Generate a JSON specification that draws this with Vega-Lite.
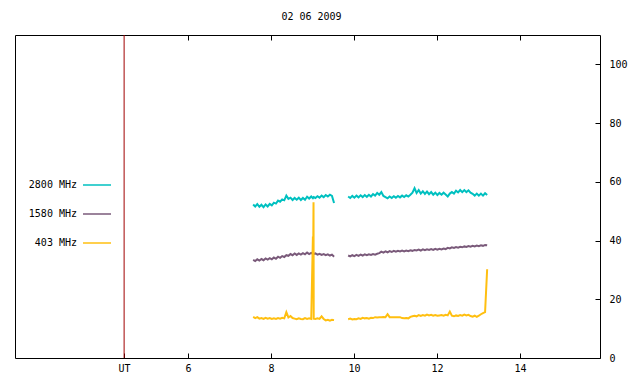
{
  "$schema": "https://vega.github.io/schema/vega-lite/v6.json",
  "width": 585,
  "height": 323,
  "autosize": {"type": "none"},
  "padding": {"left": 15, "top": 35, "right": 40, "bottom": 26},
  "background": "white",
  "config": {
    "view": {"stroke": "#000", "strokeWidth": 1},
    "font": "DejaVu Sans Mono",
    "axis": {"grid": false, "domain": false, "tickColor": "#000", "tickSize": -5, "labelPadding": 10, "labelFont": "DejaVu Sans Mono", "labelFontSize": 10, "labelColor": "#000", "title": null}
  },
  "title": {"text": "02 06 2009", "fontSize": 10, "font": "DejaVu Sans Mono", "fontWeight": "normal", "color": "#000", "offset": 13, "dx": 4},
  "layer": [
    {
      "data": {"values": [
        {"seg": 1, "t": 7.57, "2800 MHz": 52.3, "1580 MHz": 33.4, "403 MHz": 14.0},
        {"seg": 1, "t": 7.62, "2800 MHz": 51.6, "1580 MHz": 33.0, "403 MHz": 13.6},
        {"seg": 1, "t": 7.67, "2800 MHz": 52.4, "1580 MHz": 33.6, "403 MHz": 13.9},
        {"seg": 1, "t": 7.72, "2800 MHz": 51.5, "1580 MHz": 33.2, "403 MHz": 13.4},
        {"seg": 1, "t": 7.77, "2800 MHz": 52.2, "1580 MHz": 33.7, "403 MHz": 13.6},
        {"seg": 1, "t": 7.82, "2800 MHz": 51.4, "1580 MHz": 33.3, "403 MHz": 13.3},
        {"seg": 1, "t": 7.87, "2800 MHz": 52.3, "1580 MHz": 33.9, "403 MHz": 13.7},
        {"seg": 1, "t": 7.92, "2800 MHz": 51.6, "1580 MHz": 33.5, "403 MHz": 13.4},
        {"seg": 1, "t": 7.97, "2800 MHz": 52.5, "1580 MHz": 34.0, "403 MHz": 13.6},
        {"seg": 1, "t": 8.02, "2800 MHz": 52.0, "1580 MHz": 33.6, "403 MHz": 13.3},
        {"seg": 1, "t": 8.07, "2800 MHz": 52.9, "1580 MHz": 34.2, "403 MHz": 13.5},
        {"seg": 1, "t": 8.12, "2800 MHz": 52.6, "1580 MHz": 33.8, "403 MHz": 13.3},
        {"seg": 1, "t": 8.17, "2800 MHz": 53.6, "1580 MHz": 34.5, "403 MHz": 13.6},
        {"seg": 1, "t": 8.22, "2800 MHz": 53.2, "1580 MHz": 34.1, "403 MHz": 13.4},
        {"seg": 1, "t": 8.27, "2800 MHz": 54.0, "1580 MHz": 34.7, "403 MHz": 13.7},
        {"seg": 1, "t": 8.32, "2800 MHz": 53.7, "1580 MHz": 34.4, "403 MHz": 13.5},
        {"seg": 1, "t": 8.37, "2800 MHz": 55.3, "1580 MHz": 35.0, "403 MHz": 15.6},
        {"seg": 1, "t": 8.42, "2800 MHz": 54.2, "1580 MHz": 34.8, "403 MHz": 13.8},
        {"seg": 1, "t": 8.47, "2800 MHz": 54.6, "1580 MHz": 35.4, "403 MHz": 14.3},
        {"seg": 1, "t": 8.52, "2800 MHz": 53.8, "1580 MHz": 35.0, "403 MHz": 13.6},
        {"seg": 1, "t": 8.57, "2800 MHz": 54.5, "1580 MHz": 35.6, "403 MHz": 13.4},
        {"seg": 1, "t": 8.62, "2800 MHz": 53.9, "1580 MHz": 35.1, "403 MHz": 13.2},
        {"seg": 1, "t": 8.67, "2800 MHz": 54.6, "1580 MHz": 35.6, "403 MHz": 13.5},
        {"seg": 1, "t": 8.72, "2800 MHz": 53.8, "1580 MHz": 35.2, "403 MHz": 13.3},
        {"seg": 1, "t": 8.77, "2800 MHz": 54.5, "1580 MHz": 35.7, "403 MHz": 13.2},
        {"seg": 1, "t": 8.82, "2800 MHz": 53.9, "1580 MHz": 35.3, "403 MHz": 13.6},
        {"seg": 1, "t": 8.87, "2800 MHz": 54.9, "1580 MHz": 35.9, "403 MHz": 13.3},
        {"seg": 1, "t": 8.92, "2800 MHz": 54.3, "1580 MHz": 35.4, "403 MHz": 13.5},
        {"seg": 1, "t": 8.97, "2800 MHz": 55.0, "1580 MHz": 35.8, "403 MHz": 13.3},
        {"seg": 1, "t": 9.01, "2800 MHz": 54.4, "1580 MHz": 35.5, "403 MHz": 41.0},
        {"seg": 1, "t": 9.02, "2800 MHz": 54.6, "1580 MHz": 35.6, "403 MHz": 41.0},
        {"seg": 1, "t": 9.025, "2800 MHz": 54.7, "1580 MHz": 35.5, "403 MHz": 53.0},
        {"seg": 1, "t": 9.03, "2800 MHz": 54.8, "1580 MHz": 35.4, "403 MHz": 13.4},
        {"seg": 1, "t": 9.07, "2800 MHz": 54.5, "1580 MHz": 35.6, "403 MHz": 13.3},
        {"seg": 1, "t": 9.12, "2800 MHz": 55.1, "1580 MHz": 35.2, "403 MHz": 13.5},
        {"seg": 1, "t": 9.17, "2800 MHz": 54.6, "1580 MHz": 35.5, "403 MHz": 13.3},
        {"seg": 1, "t": 9.22, "2800 MHz": 55.3, "1580 MHz": 35.1, "403 MHz": 14.2},
        {"seg": 1, "t": 9.27, "2800 MHz": 54.8, "1580 MHz": 35.4, "403 MHz": 13.3},
        {"seg": 1, "t": 9.32, "2800 MHz": 55.5, "1580 MHz": 35.0, "403 MHz": 12.8},
        {"seg": 1, "t": 9.37, "2800 MHz": 55.0, "1580 MHz": 35.3, "403 MHz": 13.0},
        {"seg": 1, "t": 9.42, "2800 MHz": 55.6, "1580 MHz": 34.9, "403 MHz": 12.7},
        {"seg": 1, "t": 9.47, "2800 MHz": 55.2, "1580 MHz": 35.2, "403 MHz": 13.0},
        {"seg": 1, "t": 9.52, "2800 MHz": 52.8, "1580 MHz": 34.5, "403 MHz": 12.9},
        {"seg": 2, "t": 9.86, "2800 MHz": 55.0, "1580 MHz": 34.9, "403 MHz": 13.2},
        {"seg": 2, "t": 9.91, "2800 MHz": 54.5, "1580 MHz": 34.6, "403 MHz": 13.4},
        {"seg": 2, "t": 9.96, "2800 MHz": 55.2, "1580 MHz": 35.0, "403 MHz": 13.1},
        {"seg": 2, "t": 10.01, "2800 MHz": 54.6, "1580 MHz": 34.7, "403 MHz": 13.3},
        {"seg": 2, "t": 10.06, "2800 MHz": 55.3, "1580 MHz": 35.1, "403 MHz": 13.2},
        {"seg": 2, "t": 10.11, "2800 MHz": 54.7, "1580 MHz": 34.8, "403 MHz": 13.5},
        {"seg": 2, "t": 10.16, "2800 MHz": 55.4, "1580 MHz": 35.2, "403 MHz": 13.3},
        {"seg": 2, "t": 10.21, "2800 MHz": 54.8, "1580 MHz": 34.9, "403 MHz": 13.7},
        {"seg": 2, "t": 10.26, "2800 MHz": 55.5, "1580 MHz": 35.3, "403 MHz": 13.5},
        {"seg": 2, "t": 10.31, "2800 MHz": 54.9, "1580 MHz": 35.0, "403 MHz": 13.6},
        {"seg": 2, "t": 10.36, "2800 MHz": 55.6, "1580 MHz": 35.3, "403 MHz": 13.4},
        {"seg": 2, "t": 10.41, "2800 MHz": 55.0, "1580 MHz": 35.1, "403 MHz": 13.7},
        {"seg": 2, "t": 10.46, "2800 MHz": 55.8, "1580 MHz": 35.4, "403 MHz": 13.6},
        {"seg": 2, "t": 10.51, "2800 MHz": 55.3, "1580 MHz": 35.2, "403 MHz": 13.9},
        {"seg": 2, "t": 10.56, "2800 MHz": 56.2, "1580 MHz": 35.5, "403 MHz": 13.8},
        {"seg": 2, "t": 10.61, "2800 MHz": 55.6, "1580 MHz": 35.7, "403 MHz": 13.9},
        {"seg": 2, "t": 10.66, "2800 MHz": 56.5, "1580 MHz": 36.2, "403 MHz": 13.9},
        {"seg": 2, "t": 10.71, "2800 MHz": 55.2, "1580 MHz": 35.9, "403 MHz": 14.0},
        {"seg": 2, "t": 10.76, "2800 MHz": 54.8, "1580 MHz": 36.3, "403 MHz": 13.9},
        {"seg": 2, "t": 10.81, "2800 MHz": 54.4, "1580 MHz": 36.0, "403 MHz": 14.9},
        {"seg": 2, "t": 10.86, "2800 MHz": 55.0, "1580 MHz": 36.4, "403 MHz": 13.9},
        {"seg": 2, "t": 10.91, "2800 MHz": 54.5, "1580 MHz": 36.1, "403 MHz": 13.9},
        {"seg": 2, "t": 10.96, "2800 MHz": 55.1, "1580 MHz": 36.5, "403 MHz": 13.9},
        {"seg": 2, "t": 11.01, "2800 MHz": 54.6, "1580 MHz": 36.2, "403 MHz": 13.9},
        {"seg": 2, "t": 11.06, "2800 MHz": 55.2, "1580 MHz": 36.5, "403 MHz": 13.9},
        {"seg": 2, "t": 11.11, "2800 MHz": 54.7, "1580 MHz": 36.3, "403 MHz": 13.9},
        {"seg": 2, "t": 11.16, "2800 MHz": 55.3, "1580 MHz": 36.6, "403 MHz": 13.6},
        {"seg": 2, "t": 11.21, "2800 MHz": 54.8, "1580 MHz": 36.3, "403 MHz": 13.5},
        {"seg": 2, "t": 11.26, "2800 MHz": 55.4, "1580 MHz": 36.6, "403 MHz": 13.6},
        {"seg": 2, "t": 11.31, "2800 MHz": 55.0, "1580 MHz": 36.4, "403 MHz": 13.5},
        {"seg": 2, "t": 11.36, "2800 MHz": 55.6, "1580 MHz": 36.7, "403 MHz": 14.0},
        {"seg": 2, "t": 11.41, "2800 MHz": 56.3, "1580 MHz": 36.5, "403 MHz": 14.2},
        {"seg": 2, "t": 11.46, "2800 MHz": 57.8, "1580 MHz": 36.8, "403 MHz": 14.4},
        {"seg": 2, "t": 11.51, "2800 MHz": 56.2, "1580 MHz": 36.6, "403 MHz": 14.2},
        {"seg": 2, "t": 11.56, "2800 MHz": 57.2, "1580 MHz": 36.9, "403 MHz": 14.6},
        {"seg": 2, "t": 11.61, "2800 MHz": 56.0, "1580 MHz": 36.6, "403 MHz": 14.3},
        {"seg": 2, "t": 11.66, "2800 MHz": 56.8, "1580 MHz": 37.0, "403 MHz": 14.6},
        {"seg": 2, "t": 11.71, "2800 MHz": 55.9, "1580 MHz": 36.7, "403 MHz": 14.4},
        {"seg": 2, "t": 11.76, "2800 MHz": 56.7, "1580 MHz": 37.0, "403 MHz": 14.8},
        {"seg": 2, "t": 11.81, "2800 MHz": 55.8, "1580 MHz": 36.8, "403 MHz": 14.5},
        {"seg": 2, "t": 11.86, "2800 MHz": 56.5, "1580 MHz": 37.1, "403 MHz": 14.7},
        {"seg": 2, "t": 11.91, "2800 MHz": 55.6, "1580 MHz": 36.8, "403 MHz": 14.4},
        {"seg": 2, "t": 11.96, "2800 MHz": 56.3, "1580 MHz": 37.2, "403 MHz": 14.6},
        {"seg": 2, "t": 12.01, "2800 MHz": 55.5, "1580 MHz": 36.9, "403 MHz": 14.4},
        {"seg": 2, "t": 12.06, "2800 MHz": 56.2, "1580 MHz": 37.2, "403 MHz": 14.5},
        {"seg": 2, "t": 12.11, "2800 MHz": 55.6, "1580 MHz": 37.0, "403 MHz": 14.6},
        {"seg": 2, "t": 12.16, "2800 MHz": 56.3, "1580 MHz": 37.3, "403 MHz": 14.4},
        {"seg": 2, "t": 12.21, "2800 MHz": 55.7, "1580 MHz": 37.1, "403 MHz": 14.7},
        {"seg": 2, "t": 12.26, "2800 MHz": 55.0, "1580 MHz": 37.5, "403 MHz": 14.5},
        {"seg": 2, "t": 12.31, "2800 MHz": 56.0, "1580 MHz": 37.3, "403 MHz": 15.8},
        {"seg": 2, "t": 12.36, "2800 MHz": 56.5, "1580 MHz": 37.7, "403 MHz": 14.4},
        {"seg": 2, "t": 12.41, "2800 MHz": 56.0, "1580 MHz": 37.5, "403 MHz": 14.2},
        {"seg": 2, "t": 12.46, "2800 MHz": 57.0, "1580 MHz": 37.8, "403 MHz": 14.5},
        {"seg": 2, "t": 12.51, "2800 MHz": 56.4, "1580 MHz": 37.6, "403 MHz": 14.3},
        {"seg": 2, "t": 12.56, "2800 MHz": 57.2, "1580 MHz": 37.9, "403 MHz": 14.6},
        {"seg": 2, "t": 12.61, "2800 MHz": 56.5, "1580 MHz": 37.7, "403 MHz": 14.4},
        {"seg": 2, "t": 12.66, "2800 MHz": 57.2, "1580 MHz": 38.0, "403 MHz": 14.8},
        {"seg": 2, "t": 12.71, "2800 MHz": 56.5, "1580 MHz": 37.8, "403 MHz": 14.5},
        {"seg": 2, "t": 12.76, "2800 MHz": 57.1, "1580 MHz": 38.1, "403 MHz": 14.7},
        {"seg": 2, "t": 12.81, "2800 MHz": 56.3, "1580 MHz": 37.9, "403 MHz": 14.3},
        {"seg": 2, "t": 12.86, "2800 MHz": 55.9, "1580 MHz": 38.2, "403 MHz": 14.1},
        {"seg": 2, "t": 12.91, "2800 MHz": 55.3, "1580 MHz": 38.0, "403 MHz": 14.4},
        {"seg": 2, "t": 12.96, "2800 MHz": 56.0, "1580 MHz": 38.3, "403 MHz": 14.0},
        {"seg": 2, "t": 13.01, "2800 MHz": 55.3, "1580 MHz": 38.1, "403 MHz": 14.4},
        {"seg": 2, "t": 13.06, "2800 MHz": 56.0, "1580 MHz": 38.4, "403 MHz": 14.9},
        {"seg": 2, "t": 13.11, "2800 MHz": 55.3, "1580 MHz": 38.2, "403 MHz": 15.3},
        {"seg": 2, "t": 13.16, "2800 MHz": 56.1, "1580 MHz": 38.5, "403 MHz": 15.6},
        {"seg": 2, "t": 13.21, "2800 MHz": 55.5, "1580 MHz": 38.4, "403 MHz": 30.2}
      ]},
      "transform": [{"fold": ["2800 MHz", "1580 MHz", "403 MHz"], "as": ["band", "flux"]}],
      "mark": {"type": "line", "strokeWidth": 2, "interpolate": "linear"},
      "encoding": {
        "x": {"field": "t", "type": "quantitative", "scale": {"domain": [1.83, 15.93], "nice": false, "zero": false},
              "axis": {"orient": "bottom", "values": [4.46, 6, 8, 10, 12, 14], "labelExpr": "datum.value < 5 ? 'UT' : datum.label", "labelFlush": false}},
        "y": {"field": "flux", "type": "quantitative", "scale": {"domain": [0, 110], "nice": false},
              "axis": {"orient": "right", "values": [0, 20, 40, 60, 80, 100], "labelPadding": 14, "labelAlign": "left"}},
        "color": {"field": "band", "type": "nominal",
                  "scale": {"domain": ["2800 MHz", "1580 MHz", "403 MHz"], "range": ["#00c0c0", "#7a5a7a", "#ffbf10"]},
                  "legend": {"orient": "none", "legendX": 67, "legendY": 135, "title": null, "symbolType": "stroke", "symbolSize": 784, "symbolStrokeWidth": 1.5, "labelAlign": "right", "labelOffset": -35, "labelFontSize": 10, "labelFont": "DejaVu Sans Mono", "labelColor": "#000", "rowPadding": 9, "padding": 0}},
        "detail": {"field": "seg", "type": "nominal"}
      }
    },
    {
      "data": {"values": [{"sunrise": 4.46}]},
      "mark": {"type": "rule", "color": "#a00000", "strokeWidth": 1},
      "encoding": {
        "x": {"field": "sunrise", "type": "quantitative", "axis": {"orient": "top", "values": [6, 8, 10, 12, 14], "labels": false}}
      }
    }
  ],
  "resolve": {"axis": {"x": "independent"}}
}
